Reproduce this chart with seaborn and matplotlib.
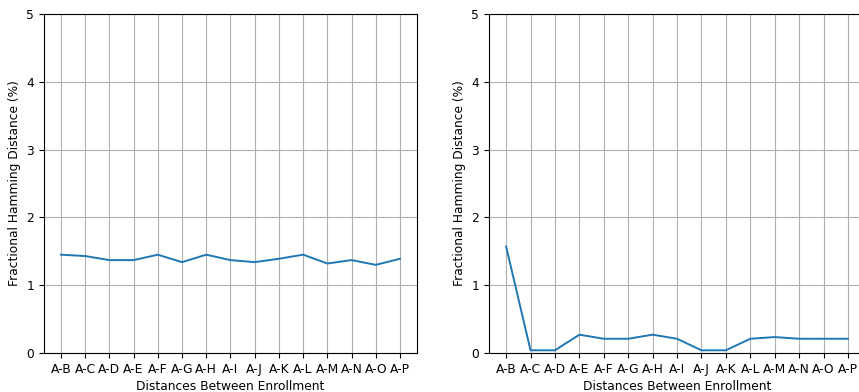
import seaborn as sns
import matplotlib.pyplot as plt

# distances between enrollment (A vs others)
pairs = ["A-B", "A-C", "A-D", "A-E", "A-F", "A-G", "A-H", "A-I",
         "A-J", "A-K", "A-L", "A-M", "A-N", "A-O", "A-P"]

left_hd = [1.45, 1.43, 1.37, 1.37, 1.45, 1.34, 1.45, 1.37,
           1.34, 1.39, 1.45, 1.32, 1.37, 1.30, 1.39]
right_hd = [1.57, 0.04, 0.04, 0.27, 0.21, 0.21, 0.27, 0.21,
            0.04, 0.04, 0.21, 0.235, 0.21, 0.21, 0.21]

plt.rcParams["font.size"] = 8.8

fig = plt.figure(figsize=(8.59, 3.92), dpi=100)
ax1 = fig.add_axes([0.0512, 0.0995, 0.4342, 0.8648])
ax2 = fig.add_axes([0.5693, 0.0995, 0.4377, 0.8648])

for ax, vals in [(ax1, left_hd), (ax2, right_hd)]:
    sns.lineplot(x=pairs, y=vals, ax=ax, sort=False, linewidth=1.4)
    ax.set_ylim(0, 5)
    ax.set_yticks([0, 1, 2, 3, 4, 5])
    ax.grid(True, color="#b0b0b0", linewidth=0.8)
    ax.set_axisbelow(True)
    ax.tick_params(labelsize=8.8)
    ax.set_xlabel("Distances Between Enrollment", fontsize=8.8, labelpad=3)
    ax.set_ylabel("Fractional Hamming Distance (%)", fontsize=8.8)

plt.savefig("out.png", dpi=100)
